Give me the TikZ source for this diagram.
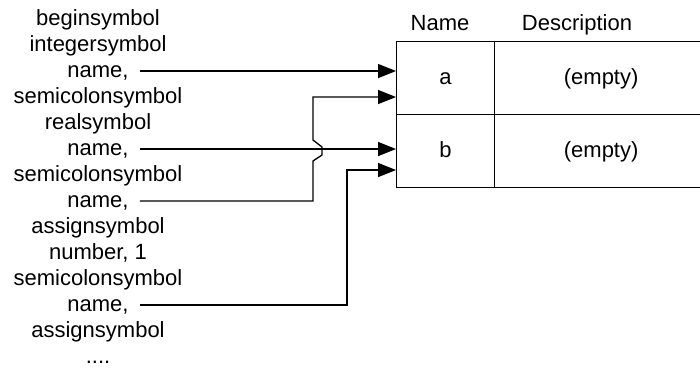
\documentclass[tikz,border=0pt]{standalone}
\usepackage{fontspec}
\setmainfont{Liberation Sans}
\usetikzlibrary{arrows.meta}

\tikzset{
    tok/.style={anchor=base, inner xsep=11pt, inner ysep=0pt, text height=16pt, text depth=4pt, font=\fontsize{22}{26}\selectfont},
    head/.style={anchor=base, font=\fontsize{22}{26}\selectfont},
    cell/.style={draw, line width=1.3pt, minimum height=73pt, text height=16pt, text depth=4pt, font=\fontsize{22}{26}\selectfont},
    arr/.style={line width=1.3pt, -{Triangle[length=18pt,width=14pt]}},
}

\begin{document}
\begin{tikzpicture}[x=1pt, y=-1pt]
        \useasboundingbox (0,0) rectangle (700,368);

        \node[tok](begin) at (98, 25){beginsymbol};
        \node[tok](int) at (98, 51){integersymbol};
        \node[tok](name1) at (98, 77){name,};
        \node[tok](semi1) at (98, 103){semicolonsymbol};
        \node[tok](real) at (98, 129){realsymbol};
        \node[tok](name2) at (98, 155){name,};
        \node[tok](semi2) at (98, 181){semicolonsymbol};
        \node[tok](name3) at (98, 207){name,};
        \node[tok](assign1) at (98, 233){assignsymbol};
        \node[tok](num) at (98, 259){number, 1};
        \node[tok](semi3) at (98, 285){semicolonsymbol};
        \node[tok](name4) at (98, 311){name,};
        \node[tok](assign2) at (98, 337){assignsymbol};
        \node[tok](dots) at (98, 363){....};

        \node[head](hname) at (440, 30){Name};
        \node[head](hdesc) at (577, 30){Description};

        \node[cell, minimum width=97.6pt](cella) at (445.5, 78.3){a};
        \node[cell, minimum width=213.7pt](desca) at (601.15, 78.3){(empty)};
        \node[cell, minimum width=97.6pt](cellb) at (445.5, 151.3){b};
        \node[cell, minimum width=213.7pt](descb) at (601.15, 151.3){(empty)};

        \draw[arr] (name1.east) -- (name1.east -| cella.west);
        \draw[arr] (name2.east) -- (name2.east -| cellb.west);

        \coordinate (hoplow) at (313, 161);
        \coordinate (hophigh) at (313, 140);
        \coordinate (turna) at (313, 97);
        \coordinate (turnb) at (347, 170);
        \draw[arr] (name3.east) -| (hoplow) -- (322, 155) -- (322, 147) -- (hophigh) -- (turna) -- (turna -| cella.west);
        \draw[arr] (name4.east) -| (turnb) -- (turnb -| cellb.west);
    \end{tikzpicture}
\end{document}
